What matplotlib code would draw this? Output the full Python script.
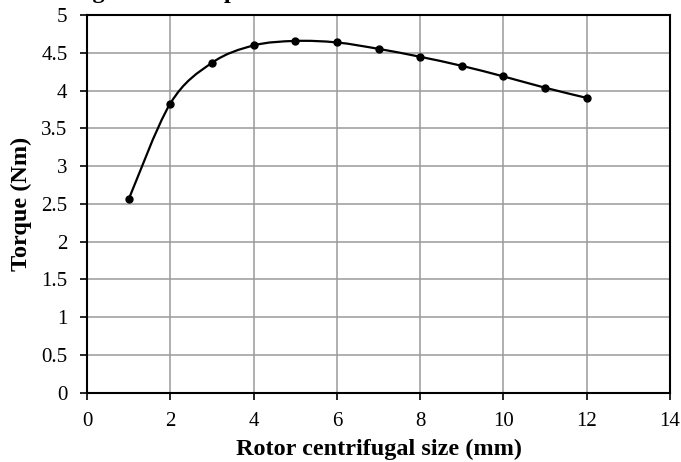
import numpy as np
import matplotlib
matplotlib.use("Agg")
import matplotlib.pyplot as plt
from matplotlib.path import Path
from matplotlib.patches import PathPatch

# rotor centrifugal size (mm) vs torque (Nm)
size_mm = [1, 2, 3, 4, 5, 6, 7, 8, 9, 10, 11, 12]
torque_nm = [2.56, 3.83, 4.37, 4.60, 4.66, 4.64, 4.555, 4.45, 4.33, 4.19, 4.04, 3.905]

x_ticks = [0, 2, 4, 6, 8, 10, 12, 14]
y_ticks = [0, 0.5, 1, 1.5, 2, 2.5, 3, 3.5, 4, 4.5, 5]
y_tick_labels = ["0", "0.5", "1", "1.5", "2", "2.5", "3", "3.5", "4", "4.5", "5"]


def smooth_path(xs, ys):
    # excel-style smoothed line: bezier segments through every point
    pts = np.column_stack([xs, ys]).astype(float)
    n = len(pts)
    verts = [pts[0]]
    codes = [Path.MOVETO]
    for i in range(n - 1):
        p0 = pts[max(i - 1, 0)]
        p1 = pts[i]
        p2 = pts[i + 1]
        p3 = pts[min(i + 2, n - 1)]
        c1 = p1 + (p2 - p0) / 6.0
        c2 = p2 - (p3 - p1) / 6.0
        verts += [c1, c2, p2]
        codes += [Path.CURVE4] * 3
    return Path(verts, codes)


plt.rcParams["font.family"] = ["Liberation Serif", "DejaVu Serif"]

fig = plt.figure(figsize=(6.81, 4.62), dpi=100)
ax = fig.add_axes([87 / 681, 69.5 / 462, 583 / 681, 377.2 / 462])

ax.add_patch(PathPatch(smooth_path(size_mm, torque_nm), facecolor="none",
                       edgecolor="black", lw=1.6, zorder=3))
ax.plot(size_mm, torque_nm, linestyle="none", marker="o", markersize=5,
        color="black", zorder=4)

ax.set_xlim(0, 14)
ax.set_ylim(0, 5)
ax.set_xticks(x_ticks)
ax.set_yticks(y_ticks)
ax.set_yticklabels(y_tick_labels)
ax.grid(True, color="#9a9a9a", lw=1.1)
ax.set_axisbelow(True)
for s in ax.spines.values():
    s.set_linewidth(1.5)
ax.tick_params(axis="both", labelsize=15, length=5, width=1.2, direction="out")
ax.tick_params(axis="x", pad=9)
ax.tick_params(axis="y", pad=9)

ax.set_xlabel("Rotor centrifugal size (mm)", fontsize=17.5, fontweight="bold",
              labelpad=6)
ax.set_ylabel("Torque (Nm)", fontsize=17.5, fontweight="bold", labelpad=7)

# title is cut off at the top edge in the original, only descenders show
fig.text(31 / 681, 1.0 + 2 / 462, "Average motor output", fontsize=17.5,
         fontweight="bold", ha="left", va="baseline")

fig.savefig("out.png", dpi=100)
